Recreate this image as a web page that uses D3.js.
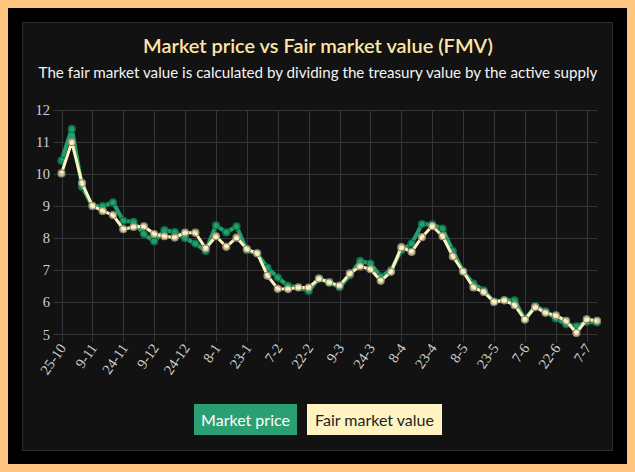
<!DOCTYPE html>
<html>
<head>
<meta charset="utf-8">
<script src="https://cdn.jsdelivr.net/npm/d3@7"></script>
<style>
  html, body { margin: 0; padding: 0; background: #ffc581; }
  svg { display: block; }
</style>
</head>
<body>
<svg id="chart"></svg>
<script>
var labels = ['25-10','30-10','4-11','9-11','14-11','19-11','24-11','29-11','4-12','9-12',
  '14-12','19-12','24-12','29-12','3-1','8-1','13-1','18-1','23-1','28-1',
  '2-2','7-2','12-2','17-2','22-2','27-2','4-3','9-3','14-3','19-3',
  '24-3','29-3','3-4','8-4','13-4','18-4','23-4','28-4','3-5','8-5',
  '13-5','18-5','23-5','28-5','2-6','7-6','12-6','17-6','22-6','27-6',
  '2-7','7-7','12-7']

var marketPrice = [10.42,11.41,9.60,9.00,9.00,9.12,8.54,8.51,8.13,7.90,
  8.25,8.19,8.00,7.83,7.60,8.40,8.18,8.37,7.62,7.52,
  7.08,6.77,6.51,6.47,6.35,6.74,6.62,6.47,6.84,7.29,
  7.21,6.80,7.00,7.62,7.83,8.44,8.43,8.30,7.60,6.96,
  6.58,6.37,6.01,6.06,6.06,5.46,5.88,5.72,5.49,5.31,
  5.25,5.38,5.37]

var fairValue = [10.02,11.00,9.72,9.01,8.85,8.72,8.28,8.35,8.37,8.13,
  8.06,8.02,8.17,8.17,7.68,8.06,7.73,8.02,7.66,7.53,
  6.83,6.42,6.41,6.46,6.46,6.74,6.62,6.52,6.90,7.12,
  7.03,6.67,6.95,7.72,7.57,8.03,8.38,8.06,7.43,6.96,
  6.46,6.32,6.01,6.06,5.91,5.46,5.85,5.67,5.59,5.42,
  5.04,5.47,5.42]

var yTicks = [5, 6, 7, 8, 9, 10, 11, 12]
var xTickLabels = labels.filter((d, i) => i % 3 == 0)

var series = [
  {name: 'Market price', values: marketPrice, color: '#21a06c', dot: '#0d6b46', width: 4, text: '#fff', box: '#2a9f72'},
  {name: 'Fair market value', values: fairValue, color: '#fff2bf', dot: '#8d8872', width: 3, text: '#222', box: '#fff3c2'},
]

var W = 635, H = 472
var svg = d3.select('#chart').attr('width', W).attr('height', H)

// frame: orange page, black mat, dark panel
svg.append('rect').attr('x', 8).attr('y', 8).attr('width', W - 16).attr('height', H - 16).attr('fill', '#000')
svg.append('rect').attr('x', 22.5).attr('y', 22.5).attr('width', 590).attr('height', 428)
  .attr('fill', '#121212').attr('stroke', '#2c2c2c')

var x = d3.scalePoint().domain(labels).range([61.5, 597])
var y = d3.scaleLinear().domain([5, 12]).range([334.3, 110])

var grid = svg.append('g').attr('stroke', '#353535').attr('stroke-width', 1)
grid.selectAll('line.h').data(yTicks).join('line')
  .attr('x1', 53.5).attr('x2', 597)
  .attr('y1', d => Math.round(y(d)) + .5).attr('y2', d => Math.round(y(d)) + .5)
grid.selectAll('line.v').data(xTickLabels).join('line')
  .attr('x1', d => Math.round(x(d)) + .5).attr('x2', d => Math.round(x(d)) + .5)
  .attr('y1', 110).attr('y2', 342)

svg.append('g').selectAll('text').data(yTicks).join('text')
  .attr('x', 50).attr('y', d => y(d)).attr('dy', '0.36em')
  .attr('text-anchor', 'end')
  .attr('font-family', '"Liberation Serif", serif').attr('font-size', 14.5)
  .attr('fill', '#d0d0d0')
  .text(d => d)

svg.append('g').selectAll('text').data(xTickLabels).join('text')
  .attr('transform', d => `translate(${x(d) + 1},${345}) rotate(-55)`)
  .attr('dy', '0.36em')
  .attr('text-anchor', 'end')
  .attr('font-family', '"Liberation Serif", serif').attr('font-size', 14.5)
  .attr('fill', '#d0d0d0')
  .text(d => d)

var line = d3.line().x((d, i) => x(labels[i])).y(d => y(d))

series.forEach(s => {
  var g = svg.append('g')
  g.append('path').datum(s.values)
    .attr('d', line)
    .attr('fill', 'none').attr('stroke', s.color)
    .attr('stroke-width', s.width).attr('stroke-linejoin', 'round')
  g.selectAll('circle').data(s.values).join('circle')
    .attr('cx', (d, i) => x(labels[i])).attr('cy', d => y(d))
    .attr('r', 3.5)
    .attr('fill', s.color).attr('fill-opacity', .75)
    .attr('stroke', s.dot).attr('stroke-width', 1.2)
})

// title + subtitle, sized to the reference widths
function fit(sel, target){
  var w = sel.node().getComputedTextLength()
  var fs = parseFloat(sel.attr('font-size'))
  sel.attr('font-size', fs * target / w)
}

var title = svg.append('text')
  .attr('x', 318).attr('y', 53)
  .attr('text-anchor', 'middle')
  .attr('font-family', 'Lato, sans-serif').attr('font-weight', 600).attr('font-size', 20)
  .attr('fill', '#ffe6a6')
  .text('Market price vs Fair market value (FMV)')
fit(title, 350)

var sub = svg.append('text')
  .attr('x', 318).attr('y', 78)
  .attr('text-anchor', 'middle')
  .attr('font-family', 'Lato, sans-serif').attr('font-size', 15)
  .attr('fill', '#f4f4f4')
  .text('The fair market value is calculated by dividing the treasury value by the active supply')
fit(sub, 559)

// legend boxes
var legendX = [194, 307], legendW = [103, 135]
var lg = svg.append('g').selectAll('g').data(series).join('g')
  .attr('transform', (d, i) => `translate(${legendX[i]},404)`)
lg.append('rect').attr('width', (d, i) => legendW[i]).attr('height', 31).attr('fill', d => d.box)
lg.append('text')
  .attr('x', (d, i) => legendW[i] / 2).attr('y', 16).attr('dy', '0.35em')
  .attr('text-anchor', 'middle')
  .attr('font-family', 'Lato, sans-serif').attr('font-size', 16)
  .attr('fill', d => d.text)
  .text(d => d.name)
</script>
</body>
</html>
